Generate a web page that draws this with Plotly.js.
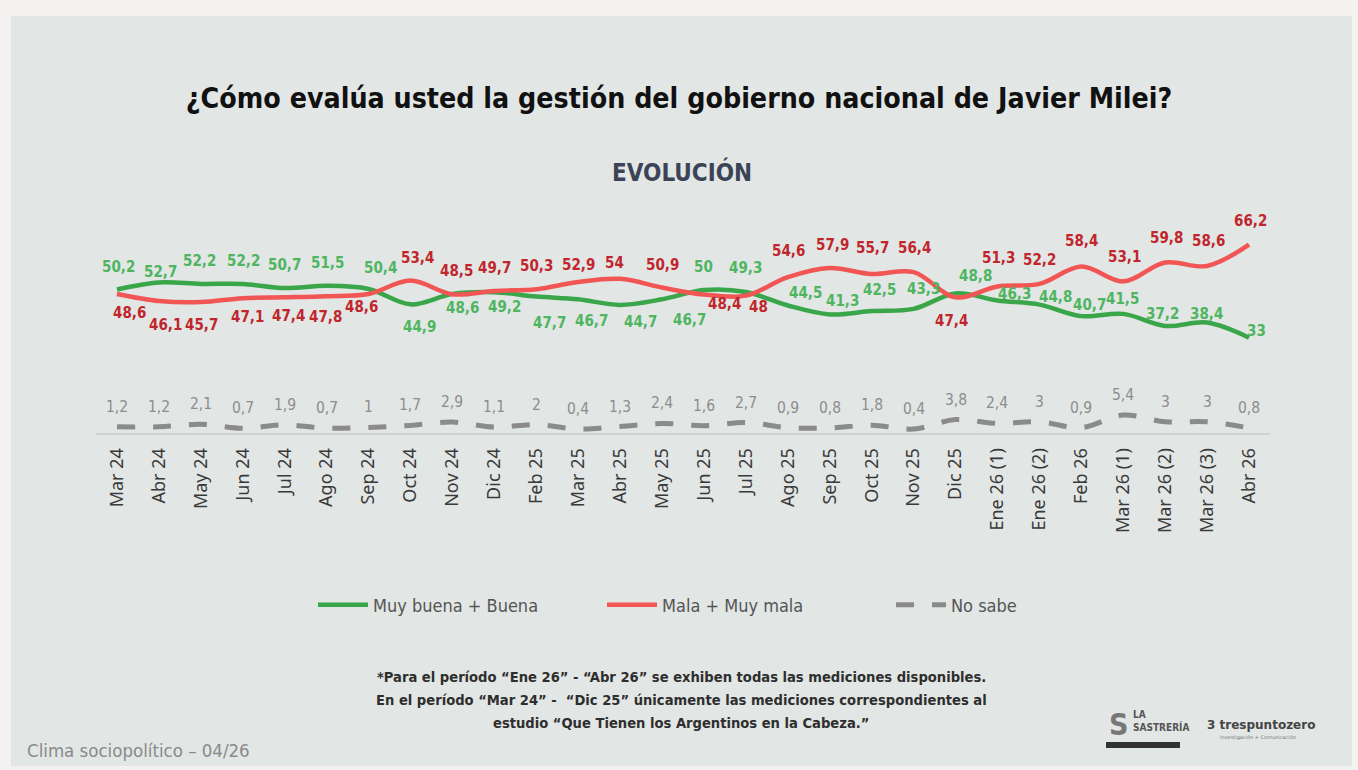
<!DOCTYPE html>
<html>
<head>
<meta charset="utf-8">
<script src="https://cdn.plot.ly/plotly-3.0.1.min.js"></script>
<style>
  html, body { margin: 0; padding: 0; width: 1358px; height: 770px; overflow: hidden; background: #f4f1f1; }
  #panel { position: absolute; left: 11px; top: 16px; width: 1341px; height: 750px; background: #e2e6e5; }
  #chart { position: absolute; left: 0; top: 0; width: 1358px; height: 770px; }
</style>
</head>
<body>
<div id="panel"></div>
<div id="chart"></div>
<script>
// ---------- data ----------
const categories = ['Mar 24','Abr 24','May 24','Jun 24','Jul 24','Ago 24','Sep 24','Oct 24','Nov 24','Dic 24',
  'Feb 25','Mar 25','Abr 25','May 25','Jun 25','Jul 25','Ago 25','Sep 25','Oct 25','Nov 25','Dic 25',
  'Ene 26 (1)','Ene 26 (2)','Feb 26','Mar 26 (1)','Mar 26 (2)','Mar 26 (3)','Abr 26'];
const goodValues = [50.2,52.7,52.2,52.2,50.7,51.5,50.4,44.9,48.6,49.2,47.7,46.7,44.7,46.7,50,49.3,44.5,41.3,42.5,43.3,48.8,46.3,44.8,40.7,41.5,37.2,38.4,33];
const badValues = [48.6,46.1,45.7,47.1,47.4,47.8,48.6,53.4,48.5,49.7,50.3,52.9,54,50.9,48.4,48,54.6,57.9,55.7,56.4,47.4,51.3,52.2,58.4,53.1,59.8,58.6,66.2];
const dontKnowValues = [1.2,1.2,2.1,0.7,1.9,0.7,1,1.7,2.9,1.1,2,0.4,1.3,2.4,1.6,2.7,0.9,0.8,1.8,0.4,3.8,2.4,3,0.9,5.4,3,3,0.8];
const seriesNames = ['Muy buena + Buena','Mala + Muy mala','No sabe'];
const footnoteLines = [
  '*Para el período “Ene 26” - “Abr 26” se exhiben todas las mediciones disponibles.',
  'En el período “Mar 24” -  “Dic 25” únicamente las mediciones correspondientes al',
  'estudio “Que Tienen los Argentinos en la Cabeza.”'
];

// ---------- label placement (style: pixel offsets, + = down / right) ----------
const goodLabelDy = [-23,-10,-23,-23,-23,-23,-21,23,14,15,26,22,17,21,-23,-24,-12,-13,-21,-20,-17,-6,-8,-11,-15,-12,-9,-7];
const goodLabelDx = [2,2,-1,1,0,1,12,9,10,10,13,13,20,27,0,0,18,13,8,10,20,17,16,8,-1,-3,-1,7];
const badLabelDy = [19,24,23,19,19,21,13,-23,-23,-23,-23,-17,-16,-23,9,11,-26,-23,-26,-24,24,-28,-24,-26,-24,-25,-25,-24];
const badLabelDx = [13,7,1,5,4,-1,-7,7,4,0,0,0,-6,0,21,13,1,3,1,1,-4,1,0,0,1,1,1,1];

// ---------- styles ----------
const COND = "'DejaVu Sans Condensed', 'Liberation Sans Narrow', sans-serif";
const GREEN_LINE = '#3aa64a', GREEN_TEXT = '#4fb560';
const RED_LINE = '#f15654', RED_TEXT = '#c0262c';
const GRAY_LINE = '#8b8b8b', GRAY_TEXT = '#8d8d8d';

const fmt = v => String(v).replace('.', ',');

const traces = [
  { x: categories, y: goodValues, name: seriesNames[0], type: 'scatter', mode: 'lines',
    line: { color: GREEN_LINE, width: 4.5, shape: 'spline', smoothing: 1 }, hoverinfo: 'skip' },
  { x: categories, y: badValues, name: seriesNames[1], type: 'scatter', mode: 'lines',
    line: { color: RED_LINE, width: 4.5, shape: 'spline', smoothing: 1 }, hoverinfo: 'skip' },
  { x: categories, y: dontKnowValues, name: seriesNames[2], type: 'scatter', mode: 'lines',
    line: { color: GRAY_LINE, width: 5, shape: 'spline', smoothing: 1, dash: '18px,18px' }, hoverinfo: 'skip' }
];

const annotations = [];
categories.forEach((c, i) => {
  annotations.push({ x: c, y: goodValues[i], xref: 'x', yref: 'y', text: fmt(goodValues[i]), showarrow: false,
    yshift: -goodLabelDy[i], xshift: goodLabelDx[i],
    font: { family: COND, size: 15, color: GREEN_TEXT, weight: 700 } });
  annotations.push({ x: c, y: badValues[i], xref: 'x', yref: 'y', text: fmt(badValues[i]), showarrow: false,
    yshift: -badLabelDy[i], xshift: badLabelDx[i],
    font: { family: COND, size: 15, color: RED_TEXT, weight: 700 } });
  annotations.push({ x: c, y: dontKnowValues[i], xref: 'x', yref: 'y', text: fmt(dontKnowValues[i]), showarrow: false,
    yshift: 20,
    font: { family: COND, size: 15.5, color: GRAY_TEXT } });
});

// plot area: x 96..1270, y 234..433  -> paper coords helpers
const px2x = p => (p - 96) / 1174;
const px2y = p => (433 - p) / 199;

annotations.push({ text: 'EVOLUCIÓN', xref: 'paper', yref: 'paper', x: px2x(682), y: px2y(172), showarrow: false,
  xanchor: 'center', yanchor: 'middle', font: { family: COND, size: 24, color: '#3b4456', weight: 700 } });
footnoteLines.forEach((t, k) => {
  annotations.push({ text: t, xref: 'paper', yref: 'paper', x: px2x(681), y: px2y(676 + 23 * k), showarrow: false,
    xanchor: 'center', yanchor: 'middle', font: { family: COND, size: 14.6, color: '#2e2e2e', weight: 700 } });
});
annotations.push({ text: 'Clima sociopolítico – 04/26', xref: 'paper', yref: 'paper', x: px2x(25), y: px2y(750),
  showarrow: false, xanchor: 'left', yanchor: 'middle', font: { family: COND, size: 18.5, color: '#8a8a8a' } });
// logos (approximated as text)
annotations.push({ text: 'LA<br>SASTRERÍA', xref: 'paper', yref: 'paper', x: px2x(1131), y: px2y(721), showarrow: false,
  xanchor: 'left', yanchor: 'middle', align: 'left', font: { family: COND, size: 10, color: '#555', weight: 700 } });
annotations.push({ text: 'S', xref: 'paper', yref: 'paper', x: px2x(1118), y: px2y(724), showarrow: false,
  xanchor: 'center', yanchor: 'middle', font: { family: COND, size: 30, color: '#777', weight: 700 } });
annotations.push({ text: '<b>3</b> trespuntozero', xref: 'paper', yref: 'paper', x: px2x(1205), y: px2y(725), showarrow: false,
  xanchor: 'left', yanchor: 'middle', font: { family: "'DejaVu Sans', sans-serif", size: 12, color: '#444', weight: 700 } });
annotations.push({ text: 'Investigación + Comunicación', xref: 'paper', yref: 'paper', x: px2x(1218), y: px2y(737), showarrow: false,
  xanchor: 'left', yanchor: 'middle', font: { family: "'DejaVu Sans', sans-serif", size: 5, color: '#777' } });

const shapes = [
  { type: 'rect', xref: 'paper', yref: 'paper', x0: px2x(1106), x1: px2x(1180), y0: px2y(748), y1: px2y(742),
    fillcolor: '#333', line: { width: 0 } }
];

const layout = {
  width: 1358, height: 770, autosize: false,
  paper_bgcolor: 'rgba(0,0,0,0)', plot_bgcolor: 'rgba(0,0,0,0)',
  margin: { l: 96, r: 88, t: 234, b: 337, pad: 0 },
  title: { text: '¿Cómo evalúa usted la gestión del gobierno nacional de Javier Milei?',
    x: 0.5, xref: 'container', xanchor: 'center', y: 1 - 98 / 770, yref: 'container', yanchor: 'middle',
    font: { family: COND, size: 28.3, color: '#111', weight: 700 } },
  xaxis: { type: 'category', categoryorder: 'array', categoryarray: categories, range: [-0.5, 27.5],
    tickangle: -90, showgrid: false, zeroline: false, showline: true, linecolor: '#d0d4d4', linewidth: 2,
    ticks: '', ticklabelstandoff: 6, fixedrange: true,
    tickfont: { family: "'Noto Sans', 'Open Sans', sans-serif", size: 18, color: '#3a3a3a' } },
  yaxis: { range: [-1, 70], visible: false, fixedrange: true },
  showlegend: true,
  legend: { orientation: 'h', x: px2x(313), xanchor: 'left', y: px2y(605), yanchor: 'middle',
    itemwidth: 50, entrywidth: 224, bgcolor: 'rgba(0,0,0,0)',
    font: { family: COND, size: 18, color: '#555' } },
  annotations: annotations,
  shapes: shapes
};

Plotly.newPlot('chart', traces, layout, { staticPlot: true, displayModeBar: false });
</script>
</body>
</html>
